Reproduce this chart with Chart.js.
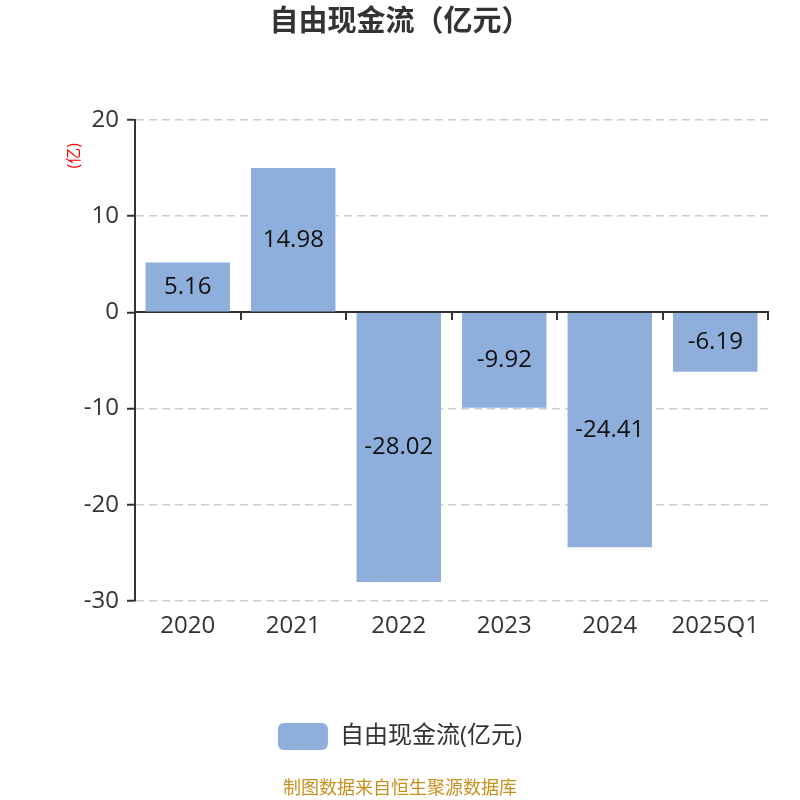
<!DOCTYPE html>
<html>
<head>
<meta charset="utf-8">
<script src="https://cdn.jsdelivr.net/npm/chart.js@4/dist/chart.umd.min.js"></script>
<style>
  html, body { margin: 0; padding: 0; background: #fff; }
  #wrap { width: 800px; height: 800px; }
</style>
</head>
<body>
<div id="wrap"><canvas id="c" width="800" height="800"></canvas></div>
<script>
// Data
const categories = ['2020', '2021', '2022', '2023', '2024', '2025Q1'];
const cashFlow = [5.16, 14.98, -28.02, -9.92, -24.41, -6.19];
const yTicks = [20, 10, 0, -10, -20, -30];

const FONT = '"Open Sans", "Noto Sans CJK SC", sans-serif';
const BAR = '#8eaedb';

// Value labels inside the bars, plus the red unit label and source line.
const extras = {
  id: 'extras',
  afterDatasetsDraw(chart) {
    const ctx = chart.ctx;
    const meta = chart.getDatasetMeta(0);
    ctx.save();
    ctx.font = '24px ' + FONT;
    ctx.fillStyle = '#111';
    ctx.textAlign = 'center';
    ctx.textBaseline = 'middle';
    meta.data.forEach((bar, i) => {
      ctx.fillText(cashFlow[i].toFixed(2), bar.x, (bar.y + bar.base) / 2);
    });
    ctx.restore();
  },
  afterDraw(chart) {
    const ctx = chart.ctx;
    const y = chart.scales.y;
    ctx.save();
    ctx.translate(74, y.top + 36);
    ctx.rotate(-Math.PI / 2);
    ctx.font = '16px ' + FONT;
    ctx.fillStyle = '#ff0000';
    ctx.textAlign = 'center';
    ctx.textBaseline = 'middle';
    ctx.fillText('(亿)', 0, 0);
    ctx.restore();

    ctx.save();
    ctx.font = '18px ' + FONT;
    ctx.fillStyle = '#c8901e';
    ctx.textAlign = 'center';
    ctx.textBaseline = 'middle';
    ctx.fillText('制图数据来自恒生聚源数据库', chart.width / 2, 789);
    ctx.restore();
  }
};

new Chart(document.getElementById('c'), {
  type: 'bar',
  data: {
    labels: categories,
    datasets: [{
      label: '自由现金流(亿元)',
      data: cashFlow,
      backgroundColor: BAR,
      categoryPercentage: 0.8,
      barPercentage: 1.0,
      xAxisID: 'x'
    }]
  },
  options: {
    responsive: false,
    animation: false,
    layout: { padding: { left: 0, right: 0, top: 0, bottom: 40 } },
    plugins: {
      title: {
        display: true,
        text: '自由现金流（亿元）',
        color: '#333',
        font: { family: FONT, size: 29, weight: 'bold' },
        padding: { top: 5, bottom: 80 }
      },
      legend: {
        position: 'bottom',
        labels: {
          boxWidth: 50, boxHeight: 27, useBorderRadius: true, borderRadius: 6,
          color: '#333', font: { family: FONT, size: 24 }, padding: 10
        }
      },
      tooltip: { enabled: false }
    },
    scales: {
      x: {
        position: 'bottom',
        border: { display: false },
        grid: { display: false, drawTicks: false },
        ticks: { color: '#333', font: { family: FONT, size: 24 }, padding: 11 },
        afterFit: (s) => { s.height = 112; }
      },
      x0: {
        type: 'category',
        labels: categories,
        position: { y: 0 },
        border: { display: true, color: '#333', width: 2 },
        grid: { display: true, drawOnChartArea: false, drawTicks: true, tickLength: 7, color: '#333', lineWidth: 2, offset: true },
        offset: true,
        ticks: { display: false }
      },
      y: {
        min: -30, max: 20,
        afterBuildTicks: (s) => { s.ticks = yTicks.map(v => ({ value: v })); },
        border: { display: true, color: '#333', width: 2, dash: [8, 5] },
        grid: {
          color: (c) => c.tick && c.tick.value === 0 ? 'rgba(0,0,0,0)' : '#cccccc',
          lineWidth: 1.5,
          drawTicks: true,
          tickLength: 8,
          tickColor: '#333',
          tickWidth: 2
        },
        ticks: { color: '#333', font: { family: FONT, size: 24 }, padding: 8 },
        afterFit: (s) => { s.width = 135; }
      },
      // empty right-hand gutter so title and legend centre on the canvas
      yRight: {
        type: 'linear',
        position: 'right',
        min: -30, max: 20,
        border: { display: false },
        grid: { display: false, drawTicks: false },
        ticks: { display: false },
        afterFit: (s) => { s.width = 32; }
      }
    }
  },
  plugins: [extras]
});
</script>
</body>
</html>
